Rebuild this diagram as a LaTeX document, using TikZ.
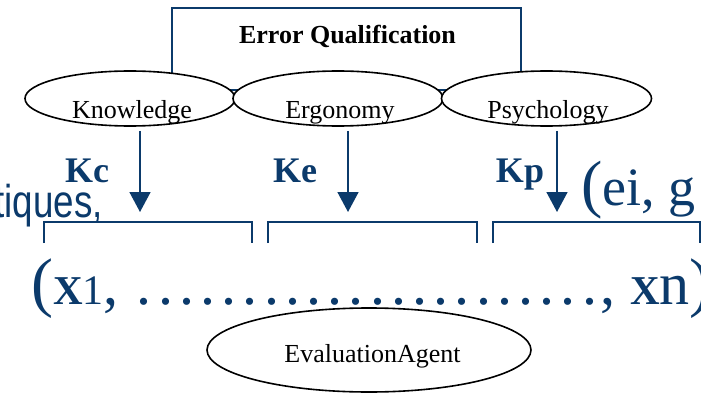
\documentclass[tikz,border=0pt]{standalone}
\usepackage{fontspec}
\setmainfont{Liberation Serif}
\newfontfamily\narrowsans[FakeStretch=0.8]{Liberation Sans}
\usetikzlibrary{arrows.meta, shapes.geometric}
\definecolor{navy}{HTML}{0B3A6B}
\newcommand{\dotcell}{\makebox[21.2pt]{.}}

\begin{document}
\begin{tikzpicture}[x=1pt, y=-1pt]
\tikzstyle{oval} = [ellipse, draw = black, line width = 1.6pt, fill = white, inner sep = 0pt]
\tikzstyle{word} = [font = \fontsize{26}{30}\selectfont, inner sep = 0pt, anchor = base]
\tikzstyle{klabel} = [font = \fontsize{36}{40}\selectfont\bfseries, text = navy, inner sep = 0pt, anchor = base]
\tikzstyle{edge} = [-{Triangle[width=21pt, length=20pt]}, draw = navy, line width = 1.6pt, shorten <= 4pt]
\tikzstyle{brk} = [draw = navy, line width = 1.8pt]
\useasboundingbox (0,0) rectangle (701,393);
\clip (0,0) rectangle (701,393);
% text of the slide behind the diagram
\node[anchor = base east, font = \narrowsans\fontsize{46}{50}\selectfont, text = navy, inner sep = 0pt] (tq) at (103,217) {tiques,};
\node[anchor = base west, font = \fontsize{54}{58}\selectfont, text = navy, inner sep = 0pt] (eg) at (581,205) {{\fontsize{64}{64}\selectfont(}ei, g};
% qualification box and the three domains
\node[draw = navy, line width = 1.5pt, minimum width = 349pt, minimum height = 82pt, inner sep = 0pt] (qbox) at (346.5,49) {};
\node[word, font = \fontsize{26}{30}\selectfont\bfseries] (qtext) at (347.5,44) {Error Qualification};
\node[oval, minimum width = 210pt, minimum height = 55pt] (kn) at (130,98.5) {};
\node[oval, minimum width = 210pt, minimum height = 55pt] (er) at (338,98.5) {};
\node[oval, minimum width = 210pt, minimum height = 55pt] (ps) at (546.5,98.5) {};
\node[word] (knt) at (132,118) {Knowledge};
\node[word] (ert) at (340,118) {Ergonomy};
\node[word] (pst) at (548,118) {Psychology};
% arrows down to the brackets
\coordinate (kc) at (140,212);
\coordinate (ke) at (348,212);
\coordinate (kp) at (557,212);
\draw[edge] ([xshift=10pt]kn.south) -- (kc);
\draw[edge] ([xshift=10pt]er.south) -- (ke);
\draw[edge] ([xshift=10.5pt]ps.south) -- (kp);
\node[klabel] (kcl) at (87,182) {Kc};
\node[klabel] (kel) at (295,182) {Ke};
\node[klabel] (kpl) at (520,182) {Kp};
\draw[brk] (44,243) |- (252,222) -- (252,243);
\draw[brk] (268,243) |- (477,222) -- (477,243);
\draw[brk] (493,243) |- (700,222) -- (700,243);
% the vector
\node[anchor = base west, font = \fontsize{60}{64}\selectfont, text = navy, inner sep = 0pt] (xs) at (31,304) {{\fontsize{66}{66}\selectfont(}{\bfseries\fontsize{41}{41}\selectfont X}{\fontsize{42}{42}\selectfont 1}, \foreach \d in {1,...,22}{\dotcell}, {\bfseries\fontsize{41}{41}\selectfont X}n{\fontsize{66}{66}\selectfont)}};
\node[oval, minimum width = 324pt, minimum height = 84pt] (ev) at (369,350) {};
\node[word] (evt) at (372.5,362) {EvaluationAgent};
\end{tikzpicture}
\end{document}
